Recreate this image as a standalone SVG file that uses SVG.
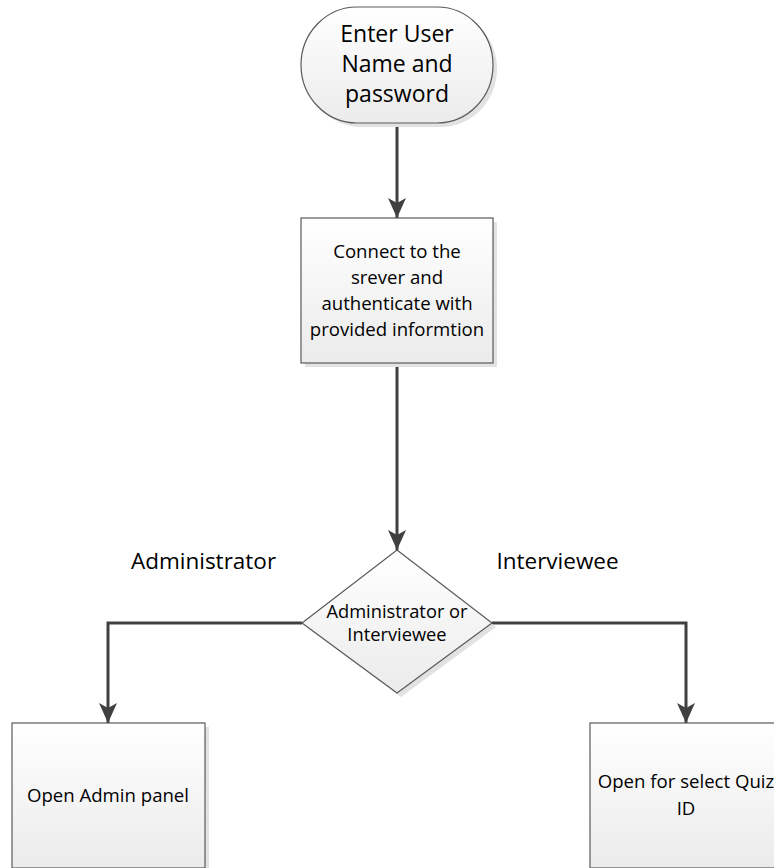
<svg xmlns="http://www.w3.org/2000/svg" width="774" height="868" viewBox="0 0 774 868">
<defs>
<linearGradient id="g" x1="0" y1="0" x2="0" y2="1">
<stop offset="0" stop-color="#ffffff"/>
<stop offset="1" stop-color="#ebebeb"/>
</linearGradient>
<marker id="ah" markerUnits="userSpaceOnUse" markerWidth="22" markerHeight="18" viewBox="0 0 22 18" refX="20" refY="9" orient="auto">
<path d="M0,0 L20,9 L0,18 L5,9 Z" fill="#404040"/>
</marker>
<style>
.node{fill:url(#g);stroke:#5a5a5a;stroke-width:1.2}
.shadow{fill:#e2e2e2}
.t{font-family:"Open Sans","Noto Sans",sans-serif;fill:#000;text-anchor:middle}
.c{fill:none;stroke:#404040;stroke-width:3;marker-end:url(#ah)}
</style>
</defs>
<rect width="774" height="868" fill="#ffffff"/>
<g id="connectors">
<path class="c" d="M397,123 V218"/>
<path class="c" d="M397,363 V550"/>
<path class="c" d="M302,623 H108 V723"/>
<path class="c" d="M492,623 H686 V723"/>
</g>
<g id="start">
<rect class="shadow" x="305" y="11" width="192" height="116" rx="56" ry="58"/>
<rect class="node" x="301" y="7" width="192" height="116" rx="56" ry="58"/>
<text class="t" font-size="23" x="397" y="42">Enter User</text>
<text class="t" font-size="23" x="397" y="72">Name and</text>
<text class="t" font-size="23" x="397" y="102">password</text>
</g>
<g id="connect">
<rect class="shadow" x="305" y="222" width="192" height="145"/>
<rect class="node" x="301" y="218" width="192" height="145"/>
<text class="t" font-size="18.6" x="397" y="258">Connect to the</text>
<text class="t" font-size="18.6" x="397" y="284">srever and</text>
<text class="t" font-size="18.6" x="397" y="310">authenticate with</text>
<text class="t" font-size="18.6" x="397" y="336">provided informtion</text>
</g>
<g id="decision">
<polygon class="shadow" points="401,554 496,627 401,697 306,627"/>
<polygon class="node" points="397,550 492,623 397,693 302,623"/>
<text class="t" font-size="18.3" x="397" y="618">Administrator or</text>
<text class="t" font-size="18.3" x="397" y="641">Interviewee</text>
</g>
<g id="labels">
<text class="t" font-size="22.5" x="203.5" y="569">Administrator</text>
<text class="t" font-size="22.5" x="557.5" y="569">Interviewee</text>
</g>
<g id="admin">
<rect class="shadow" x="16" y="727" width="193" height="145"/>
<rect class="node" x="12" y="723" width="193" height="145"/>
<text class="t" font-size="18.6" x="108" y="802">Open Admin panel</text>
</g>
<g id="quiz">
<rect class="shadow" x="594" y="727" width="193" height="145"/>
<rect class="node" x="590" y="723" width="193" height="145"/>
<text class="t" font-size="18.6" x="686" y="788">Open for select Quiz</text>
<text class="t" font-size="18.6" x="686" y="815">ID</text>
</g>
</svg>
